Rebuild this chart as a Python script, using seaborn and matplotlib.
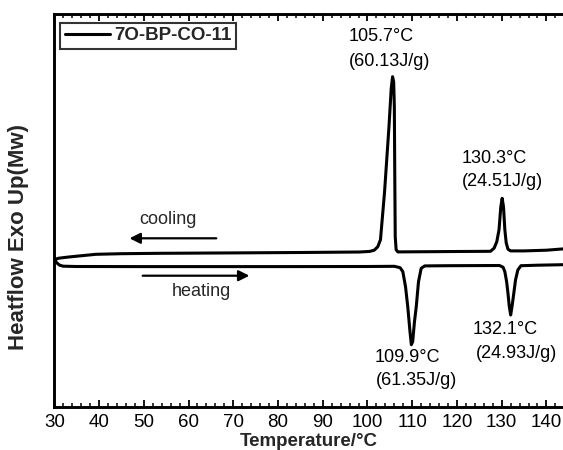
import matplotlib
matplotlib.use("Agg")
import matplotlib.pyplot as plt
import seaborn as sns
from matplotlib.ticker import MultipleLocator

# ---- data (temperature in °C, heat flow in arbitrary units) ----
cool_T = [30.1, 31.0, 33.0, 35.0, 39.3, 45.0, 53.5, 70.0, 85.0, 98.2, 100.5, 101.5, 102.3,
          102.9, 103.8, 104.8, 105.3, 105.6, 105.85, 106.0, 106.1, 106.2, 106.4, 106.8,
          110.0, 120.0, 127.5, 128.3, 128.9, 129.4, 129.8, 130.1, 130.4, 130.7, 131.0,
          131.4, 132.0, 135.0, 140.0, 143.7]
cool_Q = [147.4, 148.5, 149.6, 150.5, 152.4, 153.0, 153.4, 153.8, 154.2, 154.7, 155.3, 156.5,
          160.0, 167.0, 214.0, 280.0, 318.0, 330.0, 325.0, 300.0, 230.0, 170.0, 157.0, 154.8,
          154.9, 155.2, 155.4, 158.5, 165.0, 177.0, 200.0, 208.4, 200.0, 177.0, 164.0,
          157.5, 155.8, 155.8, 156.5, 157.8]

heat_T = [30.1, 30.5, 31.2, 32.0, 35.0, 50.0, 80.0, 100.0, 106.0, 107.3, 107.9, 108.5,
          109.0, 109.5, 109.8, 110.1, 110.5, 110.9, 111.4, 112.0, 112.8, 118.0, 129.5,
          130.3, 130.7, 131.1, 131.4, 131.7, 132.0, 132.3, 132.7, 133.1, 133.6, 134.3,
          138.0, 143.7]
heat_Q = [147.4, 144.0, 141.5, 140.5, 140.2, 140.1, 140.1, 140.2, 140.4, 139.0, 135.0, 120.0,
          100.0, 75.0, 62.0, 65.0, 85.0, 100.0, 125.0, 138.4, 140.8, 141.0, 141.2,
          139.5, 135.0, 125.0, 113.4, 100.0, 91.7, 100.0, 113.4, 127.0, 136.7, 141.0,
          141.5, 142.0]

series_name = "7O-BP-CO-11"
x_ticks = [30, 40, 50, 60, 70, 80, 90, 100, 110, 120, 130, 140]

peak_labels = [("105.7°C", 103.1, 370.0), ("(60.13J/g)", 104.9, 345.0),
               ("130.3°C", 128.4, 248.4), ("(24.51J/g)", 130.2, 225.0),
               ("109.9°C", 109.0, 49.4), ("(61.35J/g)", 110.9, 26.7),
               ("132.1°C", 130.8, 77.7), ("(24.93J/g)", 133.3, 53.4)]

# ---- style ----
sns.set_style("white")
plt.rcParams["font.family"] = ["Liberation Sans", "DejaVu Sans"]

fig = plt.figure(figsize=(5.63, 4.5), dpi=100)
ax = fig.add_axes([0.0965, 0.0962, 0.9035, 0.8727])

sns.lineplot(x=cool_T, y=cool_Q, ax=ax, color="black", lw=2.2, estimator=None,
             sort=False, label=series_name)
sns.lineplot(x=heat_T, y=heat_Q, ax=ax, color="black", lw=2.2, estimator=None,
             sort=False, legend=False)

ax.set_xlim(30, 143.7)
ax.set_ylim(0, 392.7)

ax.xaxis.set_major_locator(MultipleLocator(10))
ax.xaxis.set_minor_locator(MultipleLocator(2))
ax.set_xticks(x_ticks)
ax.set_xticklabels([str(t) for t in x_ticks])
ax.set_yticks([])
ax.tick_params(axis="x", which="both", direction="in", top=True, bottom=True,
               colors="black", labelsize=13.5, pad=5)
ax.tick_params(axis="x", which="major", length=5, width=1.3)
ax.tick_params(axis="x", which="minor", length=3, width=1.1)

for side in ["left", "bottom", "top"]:
    ax.spines[side].set_visible(True)
    ax.spines[side].set_color("black")
    ax.spines[side].set_linewidth(2.1)
ax.spines["right"].set_visible(False)

ax.set_xlabel("Temperature/°C", fontsize=13.5, fontweight="bold")
ax.xaxis.set_label_coords(0.5, -0.067)
ax.set_ylabel("Heatflow Exo Up(Mw)", fontsize=16, fontweight="bold")
ax.yaxis.set_label_coords(-0.0497, 0.433)

leg = ax.legend(loc="upper left", bbox_to_anchor=(0.0112, 0.978), borderaxespad=0,
                frameon=True, fancybox=False, handlelength=2.4, handletextpad=0.25,
                borderpad=0.25, prop={"size": 13.5, "weight": "bold"})
leg.get_frame().set_edgecolor("black")
leg.get_frame().set_linewidth(1.5)
for ln in leg.get_lines():
    ln.set_linewidth(2.2)

for txt, tx, ty in peak_labels:
    ax.text(tx, ty, txt, fontsize=13, ha="center", va="center", color="black")

ax.text(55.5, 187.7, "cooling", fontsize=13, ha="center", va="center")
ax.text(62.8, 115.0, "heating", fontsize=13, ha="center", va="center")

arrow_kw = dict(arrowstyle="-|>", color="black", lw=1.6, mutation_scale=16,
                shrinkA=0, shrinkB=0)
ax.annotate("", xy=(46.8, 168.4), xytext=(66.2, 168.4), arrowprops=arrow_kw)
ax.annotate("", xy=(73.6, 131.0), xytext=(49.75, 131.0), arrowprops=arrow_kw)

fig.savefig("out.png", dpi=100)
